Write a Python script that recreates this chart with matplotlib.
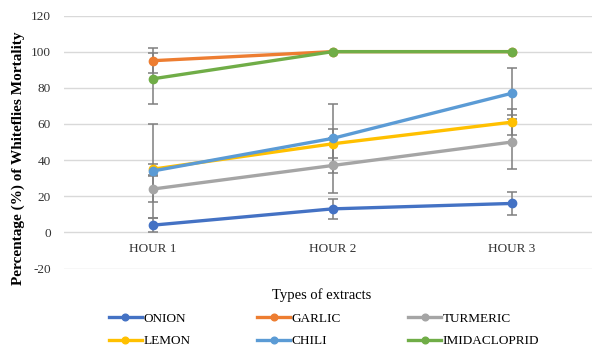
import matplotlib
matplotlib.use('Agg')
import matplotlib.pyplot as plt

# values (percentage mortality, +/- error)
hours = ['HOUR 1', 'HOUR 2', 'HOUR 3']
names = ['ONION', 'GARLIC', 'TURMERIC', 'LEMON', 'CHILI', 'IMIDACLOPRID']
onion = [4, 13, 16]
onion_err = [4, 5.5, 6.5]
garlic = [95, 100, 100]
garlic_err = [7, 0, 0]
turmeric = [24, 37, 50]
turmeric_err = [7, 15, 15]
lemon = [35, 49, 61]
lemon_err = [3, 8, 7]
chili = [34, 52, 77]
chili_err = [26, 19, 14]
imidacloprid = [85, 100, 100]
imidacloprid_err = [14, 0, 0]
y_ticks = [-20, 0, 20, 40, 60, 80, 100, 120]

colors = ['#4472C4', '#ED7D31', '#A5A5A5', '#FFC000', '#5B9BD5', '#70AD47']
series = [onion, garlic, turmeric, lemon, chili, imidacloprid]
errors = [onion_err, garlic_err, turmeric_err, lemon_err, chili_err, imidacloprid_err]

plt.rcParams['font.family'] = ['Liberation Serif', 'DejaVu Serif']

fig = plt.figure(figsize=(5.92, 3.47), dpi=100)
ax = fig.add_axes([63.5 / 592, 1 - 268.5 / 347, 1 - 63.5 / 592, (268.5 - 15.5) / 347])

x = list(range(len(hours)))
for vals, errs in zip(series, errors):
    ax.errorbar(x, vals, yerr=errs, fmt='none', ecolor='#7f7f7f', elinewidth=1.1,
                capsize=3.5, capthick=1.1, zorder=2)
lines = []
for i, vals in enumerate(series):
    ln, = ax.plot(x, vals, color=colors[i], linewidth=2.4, marker='o', markersize=6,
                  label=names[i], zorder=3 + i * 0.1)
    lines.append(ln)

ax.set_ylim(-20, 120)
ax.set_xlim(-0.5, (592 - 153) / 179.5)
ax.set_yticks(y_ticks)
ax.set_yticklabels([str(t) for t in y_ticks], fontsize=9.5, color='#333333')
ax.tick_params(axis='y', length=0, pad=9)
ax.set_xticks([])
ax.yaxis.grid(True, color='#d9d9d9', linewidth=1.0)
ax.set_axisbelow(True)
for s in ax.spines.values():
    s.set_visible(False)

for xi, lab in zip(x, hours):
    ax.text(xi, -9.2, lab, ha='center', va='center', fontsize=9.5, color='#333333')

fig.text(18 / 592, 1 - 158 / 347, 'Percentage (%) of Whiteflies Mortality', rotation=90,
         ha='center', va='center', fontsize=11, fontweight='bold', color='black')
fig.text(322 / 592, 1 - 295 / 347, 'Types of extracts', ha='center', va='center',
         fontsize=10.5, color='black')

# legend filled row by row, like the reference
order = [0, 3, 1, 4, 2, 5]
fig.legend([lines[k] for k in order], [names[k] for k in order],
           loc='center', bbox_to_anchor=(324 / 592, 1 - 330 / 347), ncol=3, frameon=False,
           fontsize=9.5, handlelength=2.5, handletextpad=0.1, columnspacing=5.1,
           labelspacing=0.75, borderpad=0, markerscale=0.8)

fig.savefig('out.png', dpi=100)
